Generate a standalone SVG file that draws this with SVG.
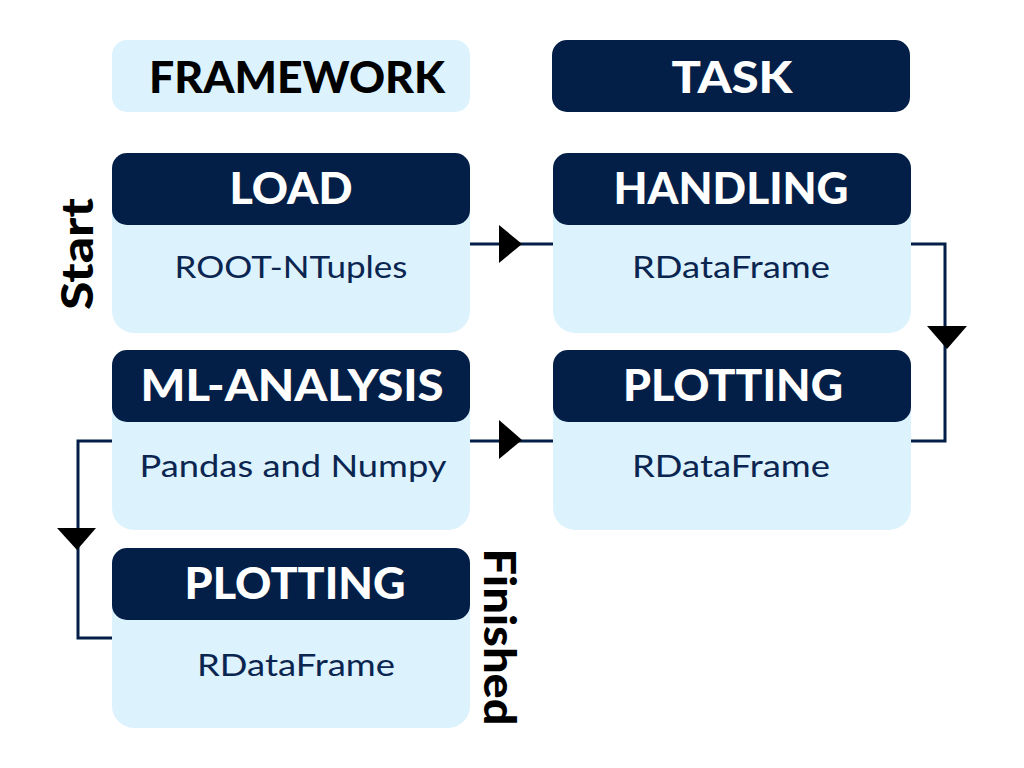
<svg xmlns="http://www.w3.org/2000/svg" width="1024" height="768" viewBox="0 0 1024 768">
<defs>
<style>
.light{fill:#dcf2fd}
.dark{fill:#031f47}
.hd{font-family:Lato,"Liberation Sans",sans-serif;font-weight:900;font-size:44px;fill:#ffffff;text-anchor:middle}
.bd{font-family:Lato,"Liberation Sans",sans-serif;font-size:30px;fill:#0a2550;text-anchor:middle}
.side{font-family:Lato,"Liberation Sans",sans-serif;font-weight:900;font-size:43px;fill:#000000;text-anchor:middle}
.ln{fill:none;stroke:#031f47;stroke-width:3}
.ah{fill:#000000}
</style>
</defs>
<rect width="1024" height="768" fill="#ffffff"/>
<g id="framework">
<rect class="light" x="112" y="40" width="358" height="72" rx="15"/>
<text class="hd" x="297" y="93" fill="#000" style="fill:#000" textLength="296" lengthAdjust="spacingAndGlyphs">FRAMEWORK</text>
</g>
<g id="task">
<rect class="dark" x="552" y="40" width="358" height="72" rx="15"/>
<text class="hd" x="732" y="93" textLength="121" lengthAdjust="spacingAndGlyphs">TASK</text>
</g>
<g id="load">
<rect class="light" x="112" y="153" width="358" height="180" rx="22"/>
<rect class="dark" x="112" y="153" width="358" height="72" rx="15"/>
<text class="hd" x="291" y="204" textLength="123" lengthAdjust="spacingAndGlyphs">LOAD</text>
<text class="bd" x="291" y="278" textLength="233" lengthAdjust="spacingAndGlyphs">ROOT-NTuples</text>
</g>
<g id="handling">
<rect class="light" x="553" y="153" width="358" height="180" rx="22"/>
<rect class="dark" x="553" y="153" width="358" height="72" rx="15"/>
<text class="hd" x="731" y="204" textLength="235" lengthAdjust="spacingAndGlyphs">HANDLING</text>
<text class="bd" x="731" y="278" textLength="198" lengthAdjust="spacingAndGlyphs">RDataFrame</text>
</g>
<g id="ml-analysis">
<rect class="light" x="112" y="350" width="358" height="180" rx="22"/>
<rect class="dark" x="112" y="350" width="358" height="72" rx="15"/>
<text class="hd" x="292" y="401" textLength="303" lengthAdjust="spacingAndGlyphs">ML-ANALYSIS</text>
<text class="bd" x="293" y="477" textLength="307" lengthAdjust="spacingAndGlyphs">Pandas and Numpy</text>
</g>
<g id="plotting-1">
<rect class="light" x="553" y="350" width="358" height="180" rx="22"/>
<rect class="dark" x="553" y="350" width="358" height="72" rx="15"/>
<text class="hd" x="733" y="401" textLength="220" lengthAdjust="spacingAndGlyphs">PLOTTING</text>
<text class="bd" x="731" y="477" textLength="198" lengthAdjust="spacingAndGlyphs">RDataFrame</text>
</g>
<g id="plotting-2">
<rect class="light" x="112" y="548" width="358" height="180" rx="22"/>
<rect class="dark" x="112" y="548" width="358" height="72" rx="15"/>
<text class="hd" x="295" y="599" textLength="221" lengthAdjust="spacingAndGlyphs">PLOTTING</text>
<text class="bd" x="296" y="676" textLength="198" lengthAdjust="spacingAndGlyphs">RDataFrame</text>
</g>
<g id="labels">
<text class="side" transform="translate(93,254) rotate(-90)" textLength="112" lengthAdjust="spacingAndGlyphs">Start</text>
<text class="side" transform="translate(484,637) rotate(90)" textLength="177" lengthAdjust="spacingAndGlyphs">Finished</text>
</g>
<g id="connectors">
<path class="ln" d="M470 244 H553"/>
<polygon class="ah" points="499,225 522,244 499,263"/>
<path class="ln" d="M911 244 H945 V441 H911"/>
<polygon class="ah" points="927,326 967,326 947,349"/>
<path class="ln" d="M470 441 H553"/>
<polygon class="ah" points="499,420 522,440 499,459"/>
<path class="ln" d="M112 441 H78 V638 H112"/>
<polygon class="ah" points="57,528 96,528 77,550"/>
</g>
</svg>
